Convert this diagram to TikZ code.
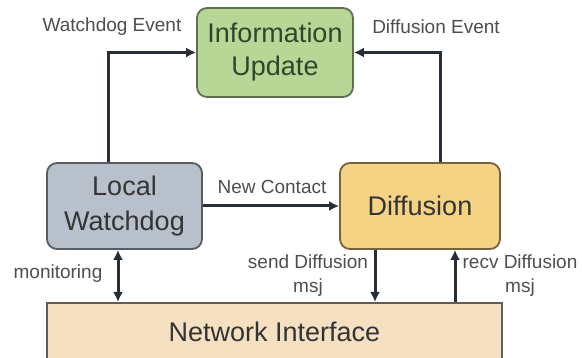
\documentclass[tikz,border=0pt]{standalone}
\usepackage{fontspec}
\setmainfont{Liberation Sans}
\usetikzlibrary{arrows.meta}
\definecolor{infofill}{RGB}{184,214,150}
\definecolor{infodraw}{RGB}{92,112,82}
\definecolor{infotext}{RGB}{48,70,44}
\definecolor{lwfill}{RGB}{184,193,203}
\definecolor{lwdraw}{RGB}{84,92,100}
\definecolor{difffill}{RGB}{244,211,132}
\definecolor{diffdraw}{RGB}{118,98,60}
\definecolor{nifill}{RGB}{245,224,194}
\definecolor{nidraw}{RGB}{100,92,84}
\definecolor{boxtext}{RGB}{52,52,52}
\definecolor{labeltext}{RGB}{78,78,78}
\definecolor{arrowcol}{RGB}{40,46,54}
\tikzset{
  box/.style={rounded corners=10pt, line width=1.8pt, inner sep=0pt, align=center,
    font=\fontsize{27}{33}\selectfont, text=boxtext},
  lbl/.style={font=\fontsize{19}{24}\selectfont, text=labeltext, align=center, inner sep=0pt},
  arr/.style={line width=3pt, draw=arrowcol, -{Latex[length=10pt,width=10pt]}},
  darr/.style={line width=3pt, draw=arrowcol, {Latex[length=10pt,width=10pt]}-{Latex[length=10pt,width=10pt]}}
}
\begin{document}
\begin{tikzpicture}[x=1pt,y=-1pt]
\useasboundingbox (0,0) rectangle (582,358);
\clip (0,0) rectangle (582,358);
\fill[white] (0,0) rectangle (582,358);
% boxes
\node[box, fill=infofill, draw=infodraw, text=infotext, minimum width=156pt, minimum height=89pt] (info) at (275,52.5) {Information\\Update};
\node[box, fill=lwfill, draw=lwdraw, minimum width=155pt, minimum height=86pt] (lw) at (124.5,206) {Local\\[2pt]Watchdog};
\node[box, fill=difffill, draw=diffdraw, minimum width=160pt, minimum height=86pt] (diff) at (420,206) {Diffusion};
\node[box, rounded corners=0pt, fill=nifill, draw=nidraw, anchor=north, minimum width=455pt, minimum height=80pt] (ni) at (274.5,302) {\raisebox{22pt}{Network Interface}};
% labels
\node[lbl] (lwe) at (112,27) {Watchdog Event};
\node[lbl] (dfe) at (436,27) {Diffusion Event};
\node[lbl] (nc) at (272,187) {New Contact};
\node[lbl] (mon) at (58,274) {monitoring};
\node[lbl] (snd) at (308,275.5) {send Diffusion\\msj};
\node[lbl] (rcv) at (520,275.5) {recv Diffusion\\msj};
% connectors
\draw[arr] (lw.north -| 108,0) |- (info.west);
\draw[arr] (diff.north -| 440,0) |- (info.east);
\draw[arr] (lw.east) -- (diff.west);
\draw[darr] (lw.south -| 118,0) -- (ni.north -| 118,0);
\draw[arr] (diff.south -| 375,0) -- (ni.north -| 375,0);
\draw[arr] (ni.north -| 455,0) -- (diff.south -| 455,0);
\end{tikzpicture}
\end{document}
